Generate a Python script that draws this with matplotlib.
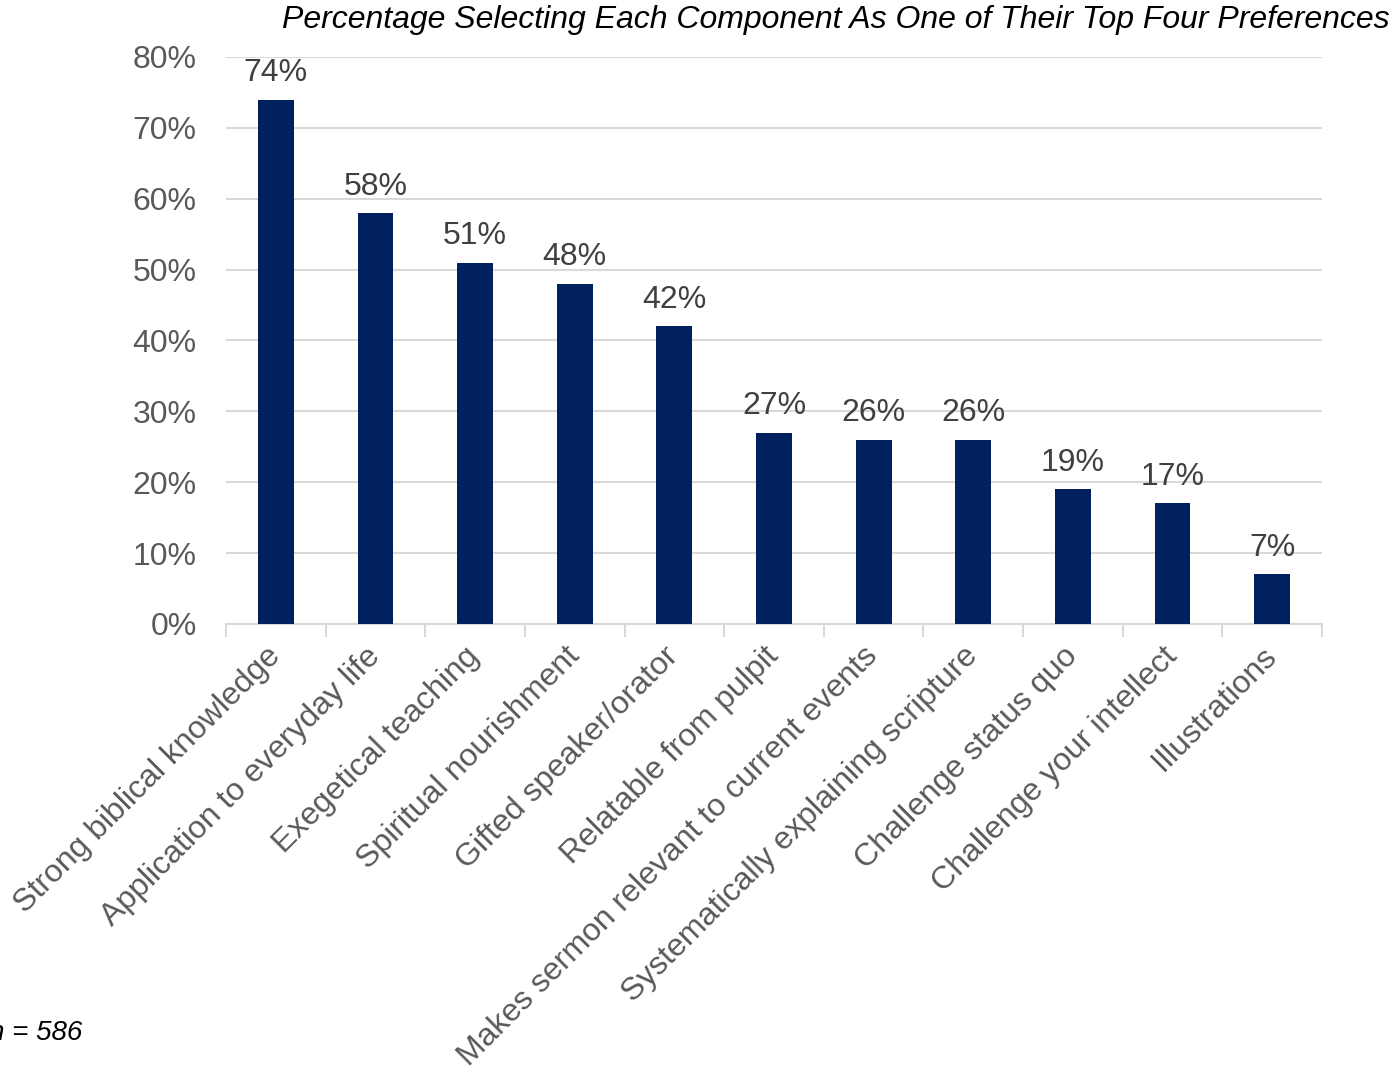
import matplotlib.pyplot as plt
from matplotlib.ticker import FixedLocator

plt.rcParams['font.family'] = ['Liberation Sans', 'DejaVu Sans']

categories = ["Strong biblical knowledge", "Application to everyday life",
              "Exegetical teaching", "Spiritual nourishment",
              "Gifted speaker/orator", "Relatable from pulpit",
              "Makes sermon relevant to current events",
              "Systematically explaining scripture", "Challenge status quo",
              "Challenge your intellect", "Illustrations"]
values = [74, 58, 51, 48, 42, 27, 26, 26, 19, 17, 7]
y_ticks = [0, 10, 20, 30, 40, 50, 60, 70, 80]

fig = plt.figure(figsize=(13.97, 10.69), dpi=100)
ax = fig.add_axes([0.1618, 0.4163, 0.7845, 0.5304])

x = range(len(categories))
bars = ax.bar(x, values, width=0.36, color='#002060', zorder=3)

for b, v in zip(bars, values):
    ax.text(b.get_x() + b.get_width() / 2, v + 1.6, f"{v}%",
            ha='center', va='bottom', fontsize=23, color='#404040', zorder=4)

ax.set_xlim(-0.5, len(categories) - 0.5)
ax.set_ylim(0, 80)
ax.set_yticks(y_ticks)
ax.set_yticklabels([f"{t}%" for t in y_ticks], fontsize=23, color='#595959')
ax.yaxis.grid(True, color='#d9d9d9', linewidth=1.5, zorder=0)
ax.tick_params(axis='y', length=0, pad=21)

ax.set_xticks(list(x))
ax.set_xticklabels(categories, rotation=45, ha='right', va='center',
                   rotation_mode='anchor', fontsize=23, color='#595959')
ax.tick_params(axis='x', which='major', length=0, pad=20)
ax.xaxis.set_minor_locator(FixedLocator([i - 0.5 for i in range(len(categories) + 1)]))
ax.tick_params(axis='x', which='minor', length=9, width=1.5, color='#d9d9d9')

for s in ['top', 'left', 'right']:
    ax.spines[s].set_visible(False)
ax.spines['bottom'].set_color('#d9d9d9')
ax.spines['bottom'].set_linewidth(1.5)

fig.text(0.995, 0.981, "Percentage Selecting Each Component As One of Their Top Four Preferences",
         ha='right', va='center', fontsize=23, style='italic', color='black')
fig.text(0.059, 0.034, "n = 586", ha='right', va='center', fontsize=20,
         style='italic', color='black')

fig.savefig("out.png", dpi=100)
